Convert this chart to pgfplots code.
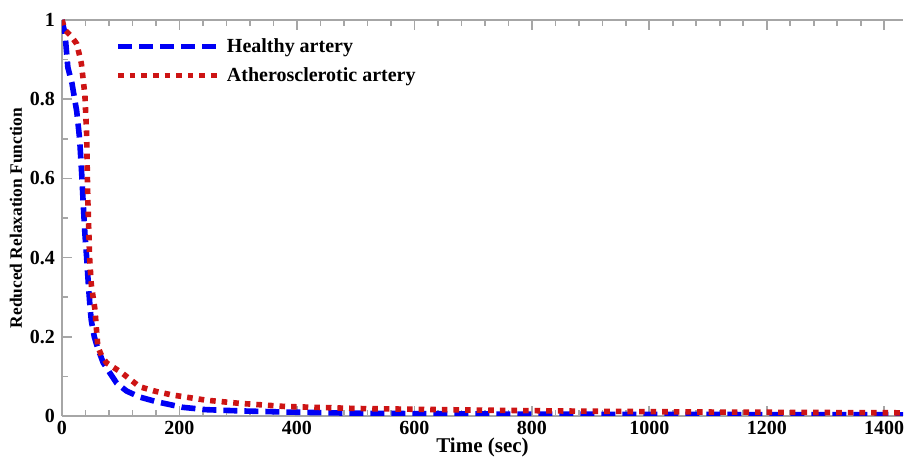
\documentclass[border=0pt]{standalone}
\usepackage{pgfplots}
\pgfplotsset{compat=1.18}
\usepackage{fontspec}
\setmainfont{Liberation Serif}
\definecolor{myblue}{RGB}{0,0,245}
\definecolor{myred}{RGB}{205,20,20}
\begin{document}
\begin{tikzpicture}
\begin{axis}[
  name=ax,
  scale only axis,
  width=420.5pt, height=198pt,
  xmin=0, xmax=1432, ymin=0, ymax=1,
  axis x line*=box, axis y line*=left,
  axis line style={gray!70, line width=0.8pt},
  xtick={0,200,...,1400},
  ytick={0,0.2,0.4,0.6,0.8,1},
  yticklabels={0,0.2,0.4,0.6,0.8,1},
  minor x tick num=4,
  minor y tick num=1,
  tick style={gray!70, line width=0.8pt},
  major tick length=5pt, minor tick length=3pt,
  tick align=inside,
  ticklabel style={font=\fontsize{10}{11}\selectfont\bfseries},
  /pgf/number format/assume math mode=true,
  /pgf/number format/set thousands separator={},
  xticklabel style={yshift=1pt},
  xlabel={\bfseries Time (sec)},
  ylabel={\bfseries Reduced Relaxation Function},
  xlabel style={font=\fontsize{10.5}{11}\selectfont, yshift=5pt},
  ylabel style={font=\fontsize{8.7}{9}\selectfont, yshift=-3pt},
  legend style={draw=none, fill=none, at={(0.063,0.965)}, anchor=north west,
    inner sep=0pt, font=\fontsize{10}{11}\selectfont\bfseries, row sep=2pt},
  legend cell align=left,
  legend image code/.code={\draw[#1] (0pt,0pt) -- (51pt,0pt);},
]
\addplot[myblue, line width=2.8pt, dash pattern=on 7pt off 3.5pt] coordinates {
(0,1) (2,0.985) (5,0.967) (10,0.88) (17,0.84) (25,0.77) (30,0.70) (34,0.60) (36,0.54)
(39,0.46) (42,0.40) (45,0.33) (48,0.27) (50,0.24) (55,0.20) (60,0.175) (70,0.135)
(81,0.11) (93,0.083) (110,0.063) (132,0.048) (161,0.036) (205,0.022) (245,0.016)
(300,0.013) (380,0.010) (500,0.007) (700,0.005) (1000,0.004) (1432,0.003)
};
\addlegendentry{Healthy artery}
\addplot[myred, line width=2.8pt, dash pattern=on 2.8pt off 3pt] coordinates {
(0,1) (5,0.975) (15,0.96) (25,0.94) (30,0.91) (33,0.89) (39,0.81) (42,0.71) (43,0.62)
(44,0.545) (46,0.45) (47,0.40) (50,0.33) (56,0.27) (61,0.175) (68,0.15) (76,0.134)
(101,0.11) (132,0.074) (160,0.062) (188,0.053) (245,0.040) (302,0.032) (380,0.024)
(500,0.019) (700,0.015) (900,0.012) (1100,0.010) (1432,0.008)
};
\addlegendentry{Atherosclerotic artery}
\end{axis}
\pgfresetboundingbox
\useasboundingbox ([xshift=-31pt, yshift=-21.5pt]ax.south west) rectangle ([xshift=1pt, yshift=10pt]ax.north east);
\end{tikzpicture}
\end{document}
